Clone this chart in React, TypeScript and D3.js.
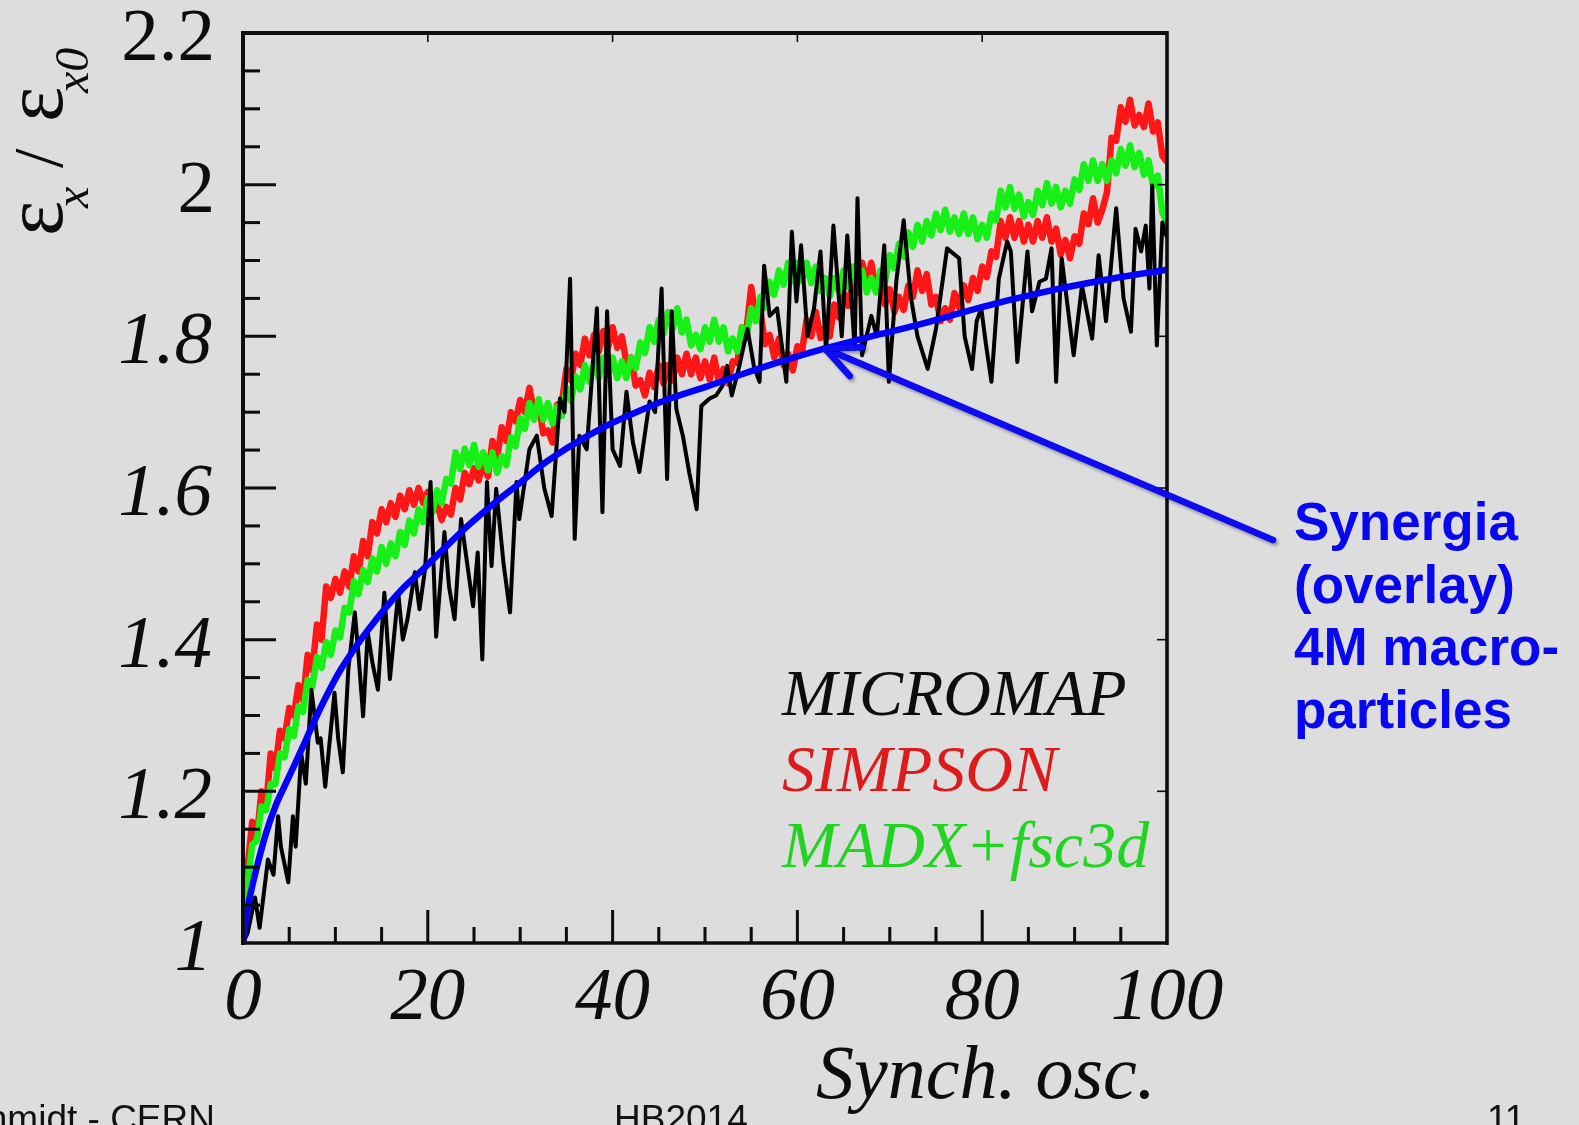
import React, { useEffect } from 'react';
import * as d3 from 'd3';

// Horizontal emittance growth vs. synchrotron oscillations: three tracking codes plus the Synergia overlay.

const xMajorTicks = [0, 20, 40, 60, 80, 100];
const xMinorTicks = d3.range(0, 101, 5);
const yLabelTicks = [1, 1.2, 1.4, 1.6, 1.8, 2, 2.2];
const yLabelText = ['1', '1.2', '1.4', '1.6', '1.8', '2', '2.2'];
const yMinorTicks = d3.range(1, 2.2001, 0.05);

// MICROMAP: [synch. osc., eps/eps0]
const micromap: [number, number][] = [
  [0, 1.0], [0.5, 1.013], [1.3, 1.06], [1.8, 1.02], [2.7, 1.11], [3.3, 1.09], [3.8, 1.167], [4.1, 1.127],
  [4.9, 1.08], [5.4, 1.167], [5.7, 1.127], [6.3, 1.25], [6.8, 1.21], [7.4, 1.334], [8.1, 1.264], [8.4, 1.27],
  [8.9, 1.206], [9.9, 1.33], [10.3, 1.27], [10.8, 1.225], [11.4, 1.361], [12.1, 1.436], [12.5, 1.38], [13.0, 1.299],
  [13.5, 1.41], [14.0, 1.37], [14.6, 1.334], [15.3, 1.462], [15.9, 1.348], [16.8, 1.462], [17.3, 1.4], [17.8, 1.427],
  [18.6, 1.489], [19.1, 1.44], [19.7, 1.493], [20.3, 1.608], [20.9, 1.404], [21.8, 1.542], [22.3, 1.47], [22.9, 1.427],
  [23.6, 1.559], [24.3, 1.497], [24.9, 1.444], [25.4, 1.515], [25.9, 1.374], [26.4, 1.608], [26.9, 1.497], [27.4, 1.599],
  [28.2, 1.5], [28.9, 1.436], [29.6, 1.608], [29.9, 1.559], [31.0, 1.651], [31.8, 1.669], [32.6, 1.6], [33.4, 1.563],
  [34.3, 1.718], [34.8, 1.7], [35.4, 1.876], [35.9, 1.533], [36.4, 1.669], [37.2, 1.651], [38.3, 1.837], [38.9, 1.568],
  [39.4, 1.833], [40.0, 1.651], [40.8, 1.629], [41.5, 1.727], [42.2, 1.66], [42.9, 1.621], [44.0, 1.714], [44.6, 1.7],
  [45.3, 1.863], [45.9, 1.612], [46.4, 1.833], [46.9, 1.704], [47.6, 1.669], [48.3, 1.62], [49.1, 1.572], [49.6, 1.708],
  [50.5, 1.718], [51.2, 1.722], [51.9, 1.735], [52.4, 1.761], [52.9, 1.722], [53.7, 1.76], [54.6, 1.81], [55.3, 1.76],
  [55.9, 1.74], [56.4, 1.893], [57.0, 1.827], [57.8, 1.837], [58.8, 1.74], [59.4, 1.938], [59.9, 1.846], [60.4, 1.92],
  [61.1, 1.8], [61.8, 1.837], [62.5, 1.912], [63.1, 1.78], [63.9, 1.946], [64.8, 1.8], [65.4, 1.933], [66.2, 1.784],
  [66.5, 1.982], [67.0, 1.775], [68.0, 1.827], [68.6, 1.8], [69.4, 1.92], [69.9, 1.74], [70.7, 1.872], [71.5, 1.953],
  [72.3, 1.85], [73.0, 1.8], [74.1, 1.757], [75.0, 1.81], [76.2, 1.916], [77.5, 1.903], [78.1, 1.8], [78.9, 1.757],
  [79.4, 1.82], [79.9, 1.837], [80.4, 1.79], [81.0, 1.74], [81.8, 1.876], [82.7, 1.925], [83.1, 1.912], [83.8, 1.766],
  [84.9, 1.912], [85.4, 1.833], [86.2, 1.872], [86.9, 1.876], [87.5, 1.916], [88.0, 1.74], [88.6, 1.903], [89.9, 1.775],
  [90.8, 1.867], [91.9, 1.797], [92.6, 1.907], [93.4, 1.82], [94.5, 1.969], [95.3, 1.85], [96.1, 1.806], [96.6, 1.942],
  [97.2, 1.912], [97.7, 1.946], [98.1, 1.863], [98.4, 1.999], [98.9, 1.788], [99.5, 1.95], [100, 1.93],
];

// SIMPSON and MADX+fsc3d are sampled every half oscillation from 0 to 100
const sampleStep = 0.5;

const simpson = [
  1.00, 1.10, 1.16, 1.14, 1.20, 1.18, 1.25, 1.23, 1.28, 1.27,
  1.31, 1.30, 1.34, 1.32, 1.38, 1.36, 1.42, 1.40, 1.47, 1.455,
  1.48, 1.462, 1.49, 1.47, 1.51, 1.49, 1.53, 1.51, 1.555, 1.54,
  1.572, 1.555, 1.58, 1.562, 1.59, 1.572, 1.597, 1.578, 1.60, 1.58,
  1.595, 1.57, 1.58, 1.558, 1.575, 1.565, 1.60, 1.585, 1.62, 1.605,
  1.626, 1.61, 1.635, 1.615, 1.662, 1.64, 1.68, 1.662, 1.70, 1.688,
  1.716, 1.70, 1.732, 1.70, 1.71, 1.672, 1.676, 1.66, 1.71, 1.712,
  1.757, 1.742, 1.777, 1.762, 1.797, 1.775, 1.802, 1.78, 1.807, 1.785,
  1.812, 1.785, 1.80, 1.765, 1.772, 1.735, 1.742, 1.722, 1.752, 1.733,
  1.762, 1.738, 1.762, 1.742, 1.772, 1.75, 1.777, 1.75, 1.772, 1.745,
  1.767, 1.743, 1.772, 1.74, 1.757, 1.738, 1.767, 1.765, 1.812, 1.81,
  1.865, 1.825, 1.832, 1.79, 1.802, 1.772, 1.797, 1.762, 1.777, 1.755,
  1.787, 1.78, 1.822, 1.80, 1.832, 1.798, 1.812, 1.80, 1.842, 1.825,
  1.857, 1.84, 1.872, 1.857, 1.897, 1.872, 1.897, 1.86, 1.872, 1.842,
  1.862, 1.832, 1.852, 1.835, 1.867, 1.852, 1.887, 1.86, 1.882, 1.842,
  1.852, 1.82, 1.837, 1.822, 1.857, 1.838, 1.867, 1.848, 1.877, 1.86,
  1.892, 1.878, 1.912, 1.905, 1.952, 1.93, 1.957, 1.93, 1.952, 1.925,
  1.947, 1.925, 1.952, 1.93, 1.957, 1.925, 1.942, 1.908, 1.927, 1.903,
  1.932, 1.922, 1.962, 1.948, 1.982, 1.95, 1.967, 1.99, 2.062, 2.058,
  2.102, 2.083, 2.112, 2.078, 2.092, 2.076, 2.107, 2.07, 2.082, 2.038,
  2.03,
];

const madx = [
  1.00, 1.08, 1.13, 1.135, 1.18, 1.175, 1.21, 1.21, 1.25, 1.245,
  1.282, 1.273, 1.312, 1.305, 1.347, 1.338, 1.377, 1.363, 1.397, 1.38,
  1.412, 1.403, 1.442, 1.436, 1.477, 1.46, 1.492, 1.476, 1.507, 1.49,
  1.522, 1.50, 1.527, 1.51, 1.542, 1.525, 1.557, 1.54, 1.572, 1.555,
  1.587, 1.568, 1.597, 1.58, 1.612, 1.606, 1.647, 1.625, 1.652, 1.63,
  1.657, 1.628, 1.647, 1.623, 1.647, 1.62, 1.642, 1.63, 1.667, 1.655,
  1.692, 1.678, 1.712, 1.69, 1.717, 1.69, 1.712, 1.685, 1.707, 1.695,
  1.732, 1.715, 1.747, 1.73, 1.762, 1.74, 1.767, 1.745, 1.772, 1.748,
  1.772, 1.745, 1.767, 1.745, 1.772, 1.758, 1.792, 1.778, 1.812, 1.793,
  1.822, 1.803, 1.832, 1.81, 1.837, 1.805, 1.822, 1.788, 1.802, 1.783,
  1.812, 1.793, 1.822, 1.793, 1.812, 1.78, 1.797, 1.78, 1.812, 1.80,
  1.837, 1.82, 1.852, 1.838, 1.872, 1.855, 1.887, 1.868, 1.897, 1.873,
  1.897, 1.873, 1.897, 1.87, 1.892, 1.86, 1.877, 1.853, 1.877, 1.858,
  1.887, 1.865, 1.892, 1.865, 1.887, 1.858, 1.877, 1.858, 1.887, 1.873,
  1.907, 1.89, 1.922, 1.905, 1.937, 1.918, 1.947, 1.925, 1.952, 1.933,
  1.962, 1.94, 1.967, 1.938, 1.957, 1.935, 1.962, 1.935, 1.957, 1.928,
  1.947, 1.93, 1.962, 1.953, 1.992, 1.97, 1.997, 1.968, 1.987, 1.958,
  1.977, 1.96, 1.992, 1.973, 2.002, 1.975, 1.997, 1.97, 1.992, 1.975,
  2.007, 1.993, 2.027, 2.005, 2.032, 2.005, 2.027, 2.005, 2.032, 2.015,
  2.047, 2.025, 2.052, 2.023, 2.042, 2.013, 2.032, 1.998, 2.012, 1.963,
  1.95,
];

// Synergia overlay (smooth)
const synergia: [number, number][] = [
  [0, 1.0], [0.5, 1.045], [1, 1.075], [1.6, 1.105], [2.5, 1.145], [3.5, 1.18], [4.5, 1.207], [5.5, 1.233],
  [6.7, 1.265], [8, 1.3], [9, 1.325], [10.3, 1.355], [12, 1.387], [13.8, 1.417], [15.5, 1.443], [17.5, 1.47],
  [19.5, 1.493], [21.5, 1.517], [24.5, 1.552], [27, 1.578], [30, 1.607], [32, 1.627], [35, 1.652], [39, 1.68],
  [42, 1.697], [46, 1.717], [50, 1.733], [54, 1.75], [58, 1.766], [63, 1.784], [68, 1.8], [73, 1.815],
  [78, 1.832], [83, 1.848], [88, 1.862], [94, 1.876], [100, 1.888],
];

const legendItems = [
  { label: 'MICROMAP', color: '#0c0c0c' },
  { label: 'SIMPSON', color: '#dc1a1a' },
  { label: 'MADX+fsc3d', color: '#22d422' },
];

const noteLines = ['Synergia', '(overlay)', '4M macro-', 'particles'];
const arrowTarget: [number, number] = [63, 1.784];

const W = 1579;
const H = 1125;
const BG = '#dddddd';
const SERIF = '"Liberation Serif", "Times New Roman", "DejaVu Serif", serif';
const SANS = '"Liberation Sans", Arial, "DejaVu Sans", sans-serif';

export default function App() {
  useEffect(() => {
    document.body.style.margin = '0';
    document.body.style.background = BG;
  }, []);

  const x = d3.scaleLinear().domain([0, 100]).range([243, 1167]);
  const y = d3.scaleLinear().domain([1, 2.2]).range([943, 33]);

  const pairLine = d3
    .line<[number, number]>()
    .x((d) => x(d[0]))
    .y((d) => y(d[1]));
  const stepLine = d3
    .line<number>()
    .x((_, i) => x(i * sampleStep))
    .y((d) => y(d));
  const smoothLine = d3
    .line<[number, number]>()
    .x((d) => x(d[0]))
    .y((d) => y(d[1]))
    .curve(d3.curveMonotoneX);

  const [x0, x1] = x.range();
  const [yb, yt] = y.range();

  // arrow geometry
  const tip: [number, number] = [x(arrowTarget[0]), y(arrowTarget[1])];
  const tail: [number, number] = [1273, 540];
  const ang = Math.atan2(tail[1] - tip[1], tail[0] - tip[0]);
  const barbLen = 37;
  const barbAng = (25 * Math.PI) / 180;
  const barbA: [number, number] = [tip[0] + barbLen * Math.cos(ang - barbAng), tip[1] + barbLen * Math.sin(ang - barbAng)];
  const barbB: [number, number] = [tip[0] + barbLen * Math.cos(ang + barbAng), tip[1] + barbLen * Math.sin(ang + barbAng)];

  return (
    <svg
      width={W}
      height={H}
      viewBox={`0 0 ${W} ${H}`}
      style={{ position: 'absolute', left: 0, top: 0, display: 'block' }}
    >
      <defs>
        <filter id="soft" filterUnits="userSpaceOnUse" x="0" y="0" width={W} height={H}>
          <feGaussianBlur stdDeviation="0.7" />
        </filter>
        <filter id="shade" filterUnits="userSpaceOnUse" x="0" y="0" width={W} height={H}>
          <feDropShadow dx="2" dy="2.5" stdDeviation="1.6" floodColor="#000" floodOpacity="0.35" />
        </filter>
        <clipPath id="plotClip">
          <rect x={x0} y={yt} width={x1 - x0} height={yb - yt} />
        </clipPath>
      </defs>

      <rect x={0} y={0} width={W} height={H} fill={BG} />

      <g filter="url(#soft)">
        {/* data */}
        <g clipPath="url(#plotClip)" fill="none" strokeLinejoin="round">
          <path d={stepLine(simpson) || ''} stroke="#ff1212" strokeWidth={6.5} />
          <path d={stepLine(madx) || ''} stroke="#12f012" strokeWidth={6.5} />
          <path d={pairLine(micromap) || ''} stroke="#050505" strokeWidth={4} />
          <path d={smoothLine(synergia) || ''} stroke="#0505ff" strokeWidth={6.5} strokeLinecap="round" />
        </g>

        {/* frame */}
        <g stroke="#0a0a0a" fill="none">
          <line x1={x0} x2={x1 + 1} y1={yt} y2={yt} strokeWidth={4} />
          <line x1={x0} x2={x1 + 1} y1={yb} y2={yb} strokeWidth={3.6} />
          <line x1={x0} x2={x0} y1={yt - 2} y2={yb + 2} strokeWidth={4} />
          <line x1={x1} x2={x1} y1={yt - 2} y2={yb + 2} strokeWidth={3.6} />
        </g>

        {/* x ticks */}
        <g stroke="#0a0a0a">
          {xMinorTicks.map((t) => {
            const major = t % 20 === 0;
            if (t === 0 || t === 100) return null;
            return <line key={`xb${t}`} x1={x(t)} x2={x(t)} y1={yb} y2={yb - (major ? 33 : 16)} strokeWidth={3} />;
          })}
          {xMajorTicks
            .filter((t) => t > 0 && t < 100)
            .map((t) => (
              <line key={`xt${t}`} x1={x(t)} x2={x(t)} y1={yt} y2={yt + 9} strokeWidth={1.6} />
            ))}
        </g>

        {/* y ticks */}
        <g stroke="#0a0a0a">
          {yMinorTicks.map((t, i) => {
            if (i === 0 || i === yMinorTicks.length - 1) return null;
            const major = i % 4 === 0;
            return <line key={`yl${i}`} x1={x0} x2={x0 + (major ? 33 : 17)} y1={y(t)} y2={y(t)} strokeWidth={3} />;
          })}
          {yLabelTicks
            .filter((t) => t > 1 && t < 2.2)
            .map((t) => (
              <line key={`yr${t}`} x1={x1} x2={x1 - 10} y1={y(t)} y2={y(t)} strokeWidth={1.6} />
            ))}
        </g>

        {/* tick labels */}
        <g fontFamily={SERIF} fontSize={75} fill="#0a0a0a">
          {yLabelTicks.map((t, i) => (
            <text
              key={`ylab${t}`}
              x={t >= 2 ? 215 : 212}
              y={y(t) + 27}
              textAnchor="end"
              fontStyle={t >= 2 ? 'normal' : 'italic'}
            >
              {yLabelText[i]}
            </text>
          ))}
          {xMajorTicks.map((t) => (
            <text key={`xlab${t}`} x={x(t)} y={1019} textAnchor="middle" fontStyle="italic">
              {t}
            </text>
          ))}
        </g>

        {/* x title */}
        <text x={816} y={1098} fontFamily={SERIF} fontSize={76} fontStyle="italic" fill="#0a0a0a">
          Synch. osc.
        </text>

        {/* y title, rotated */}
        <g transform="translate(62,0) rotate(-90)" fontFamily={SERIF} fill="#0a0a0a">
          <text x={-236} y={0} fontSize={84}>ε</text>
          <text x={-208} y={26} fontSize={48} fontStyle="italic">x</text>
          <text x={-168} y={0} fontSize={70}>/</text>
          <text x={-122} y={0} fontSize={84}>ε</text>
          <text x={-93} y={26} fontSize={48} fontStyle="italic">x0</text>
        </g>

        {/* legend */}
        <g fontFamily={SERIF} fontSize={66} fontStyle="italic">
          {legendItems.map((d, i) => (
            <text key={d.label} x={782} y={715 + i * 76} fill={d.color}>
              {d.label}
            </text>
          ))}
        </g>
      </g>

      {/* Synergia annotation */}
      <g filter="url(#shade)" stroke="#0707f0" strokeWidth={6.5} strokeLinecap="round" fill="none">
        <line x1={tail[0]} y1={tail[1]} x2={tip[0]} y2={tip[1]} />
        <polyline points={`${barbA[0]},${barbA[1]} ${tip[0]},${tip[1]} ${barbB[0]},${barbB[1]}`} strokeLinejoin="round" />
      </g>
      <g fontFamily={SANS} fontWeight="bold" fontSize={53} fill="#0707f0">
        {noteLines.map((s, i) => (
          <text key={s} x={1294} y={540 + i * 62.5}>
            {s}
          </text>
        ))}
      </g>

      {/* footer */}
      <g fontFamily={SANS} fontSize={37} fill="#111">
        <text x={215} y={1131} textAnchor="end">hmidt - CERN</text>
        <text x={614} y={1131}>HB2014</text>
        <text x={1487} y={1131}>11</text>
      </g>
    </svg>
  );
}
